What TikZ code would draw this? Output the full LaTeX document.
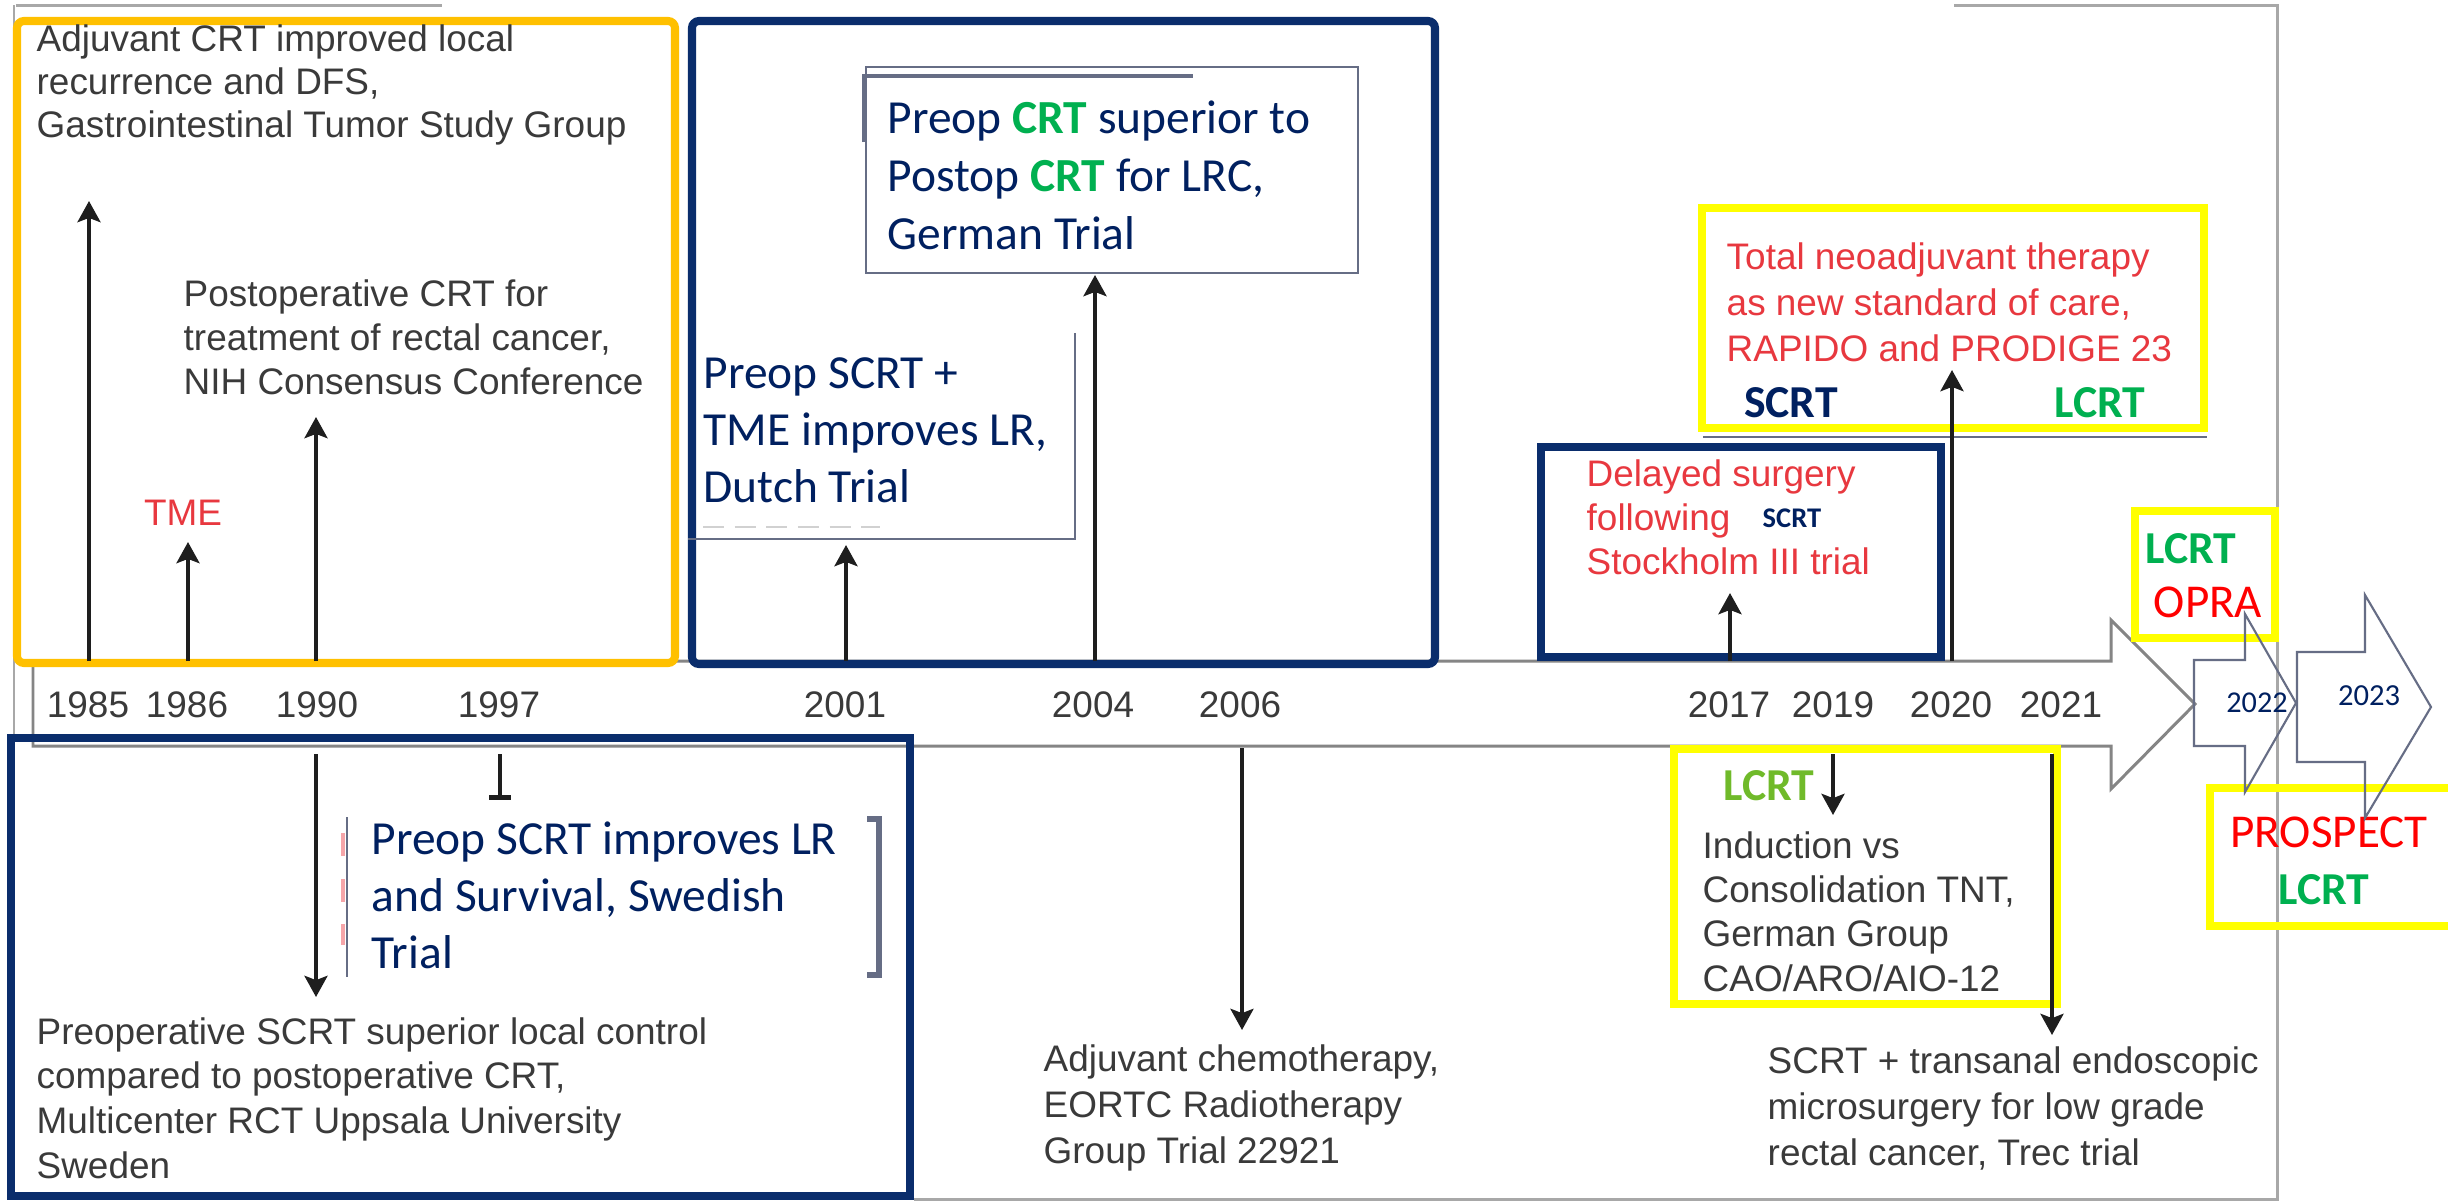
\documentclass[tikz,border=0pt]{standalone}
\usepackage{fontspec}
\setmainfont{Liberation Sans}
\newfontfamily\calfont{Carlito}
\usetikzlibrary{arrows.meta}
\definecolor{orangeY}{HTML}{FFC000}
\definecolor{navybox}{HTML}{0A2D6C}
\definecolor{navytext}{HTML}{002060}
\definecolor{yel}{HTML}{FFFF00}
\definecolor{grn}{HTML}{00B050}
\definecolor{lgrn}{HTML}{70BA2A}
\definecolor{pred}{HTML}{FF0000}
\definecolor{sred}{HTML}{E8383F}
\definecolor{gtext}{HTML}{3A3A3A}
\definecolor{slate}{HTML}{666D85}
\definecolor{bandgrey}{HTML}{858585}
\definecolor{framegrey}{HTML}{A8A8A8}
\definecolor{arblack}{HTML}{1E1E1E}
\begin{document}
\begin{tikzpicture}[x=0.01cm,y=-0.01cm,
  evt/.style={line width=1.4pt, draw=arblack, -{Stealth[length=6pt,width=6.5pt,inset=1.2pt]}},
  tbar/.style={line width=1.3pt, draw=arblack, -{Bar[width=6pt]}},
  arialtxt/.style={inner sep=0pt, anchor=base west, align=left, text=gtext, font=\fontsize{10.5pt}{#1pt}\selectfont},
  caltxt/.style={inner sep=0pt, anchor=base west, align=left, text=navytext, font=\calfont\fontsize{13.5pt}{#1pt}\selectfont},
  yearlbl/.style={inner sep=0pt, text=gtext, font=\fontsize{10.5pt}{12pt}\selectfont},
  tag/.style={inner sep=0pt, font=\calfont\bfseries\fontsize{13pt}{15pt}\selectfont},
  tagreg/.style={inner sep=0pt, font=\calfont\fontsize{13.4pt}{15pt}\selectfont},
  thickbox/.style={line width=2.3pt},
  thinbox/.style={line width=0.6pt, draw=slate},
  band/.style={line width=0.85pt, draw=bandgrey},
  framel/.style={line width=0.85pt, draw=framegrey},
  yeararrow/.style={line width=0.6pt, draw=slate}
]
\useasboundingbox (0,0) rectangle (2448,1202);
\fill[white] (0,0) rectangle (2448,1202);

% outer frame remnants
\draw[framel] (16,5) -- (442,5);
\draw[framel] (1954,5) -- (2277,5) -- (2277,1199) -- (914,1199);
\draw[framel] (14,5) -- (14,740);

% main timeline arrow
\draw[band] (33,661) -- (2111,661) -- (2111,620) -- (2195,704) -- (2111,789) -- (2111,746) -- (33,746) -- cycle;

% thick frames
\draw[thickbox, draw=orangeY, rounded corners=2pt] (17,21) rectangle (675,663);
\draw[thickbox, draw=navybox, rounded corners=2pt] (692,21) rectangle (1435,664);
\draw[thickbox, draw=navybox] (11,738) rectangle (910,1196);
\draw[thickbox, draw=navybox] (1541,447) rectangle (1941,657);
\draw[line width=0.5pt, draw=slate] (1703,437) -- (2207,437);
\draw[thickbox, draw=yel] (1702,208) rectangle (2204,428);
\draw[thickbox, draw=yel] (1674,749) rectangle (2057,1004);
\draw[thickbox, draw=yel] (2135,511) rectangle (2275,638);
\draw[thickbox, draw=yel] (2448,788) -- (2210,788) -- (2210,926) -- (2448,926);

% thin text boxes
\draw[thinbox] (866,67) rectangle (1358,273);
\draw[line width=1.1pt, draw=slate] (864,142) -- (864,76) -- (1193,76);
\draw[thinbox] (1075,333) -- (1075,539) -- (688,539);
\draw[draw=black!18, line width=0.6pt, dash pattern=on 6pt off 3pt] (703,527) -- (880,527);
\draw[thinbox] (347,817) -- (347,977);
\draw[line width=1.8pt, draw=slate] (867,819) -- (879,819) -- (879,975) -- (867,975);
\draw[line width=1pt, draw=sred!45] (343,833) -- (343,856);
\draw[line width=1pt, draw=sred!45] (343,879) -- (343,902);
\draw[line width=1pt, draw=sred!45] (343,924) -- (343,945);

% year labels
\node[yearlbl] (y1985) at (88,705) {1985};
\node[yearlbl] (y1986) at (187,705) {1986};
\node[yearlbl] (y1990) at (317,705) {1990};
\node[yearlbl] (y1997) at (499,705) {1997};
\node[yearlbl] (y2001) at (845,705) {2001};
\node[yearlbl] (y2004) at (1093,705) {2004};
\node[yearlbl] (y2006) at (1240,705) {2006};
\node[yearlbl] (y2017) at (1729,705) {2017};
\node[yearlbl] (y2019) at (1833,705) {2019};
\node[yearlbl] (y2020) at (1951,705) {2020};
\node[yearlbl] (y2021) at (2061,705) {2021};

% texts above the timeline (anchor = baseline of the last line)
\node[arialtxt=12.2] (adj) at (36,137) {Adjuvant CRT improved local\\recurrence and DFS,\\Gastrointestinal Tumor Study Group};
\node[arialtxt=12.5] (post) at (183,394) {Postoperative CRT for\\treatment of rectal cancer,\\NIH Consensus Conference};
\node[inner sep=0pt, text=sred, font=\fontsize{10.5pt}{12pt}\selectfont] (tme) at (183,513) {TME};
\node[caltxt=16.4] (german) at (887,249) {Preop {\bfseries\color{grn}CRT} superior to\\Postop {\bfseries\color{grn}CRT} for LRC,\\German Trial};
\node[caltxt=16.2] (dutch) at (703,502) {Preop SCRT +\\TME improves LR,\\Dutch Trial};
\node[arialtxt=12.5, text=sred] (delayed) at (1586,574) {Delayed surgery\\following\\Stockholm III trial};
\node[inner sep=0pt, anchor=base west, text=navytext, font=\calfont\bfseries\fontsize{8.1pt}{10pt}\selectfont] (smallscrt) at (1762,527) {SCRT};
\node[arialtxt=13, text=sred] (tnt) at (1726,361) {Total neoadjuvant therapy\\as new standard of care,\\RAPIDO and PRODIGE 23};
\node[tag, text=navytext] (tscrt) at (1791,403) {SCRT};
\node[tag, text=grn] (tlcrt) at (2100,403) {LCRT};
\node[tag, text=grn] (olcrt) at (2191,549) {LCRT};
\node[tagreg, text=pred] (opra) at (2208,602) {OPRA};

% texts below the timeline
\node[caltxt=16.2] (swed) at (371,968) {Preop SCRT improves LR\\and Survival, Swedish\\Trial};
\node[arialtxt=12.7] (upps) at (36,1178) {Preoperative SCRT superior local control\\compared to postoperative CRT,\\Multicenter RCT Uppsala University\\Sweden};
\node[arialtxt=13] (eortc) at (1043,1163) {Adjuvant chemotherapy,\\EORTC Radiotherapy\\Group Trial 22921};
\node[tag, text=lgrn] (blcrt) at (1769,786) {LCRT};
\node[arialtxt=12.6] (induct) at (1702,991) {Induction vs\\Consolidation TNT,\\German Group\\CAO/ARO/AIO-12};
\node[arialtxt=13] (trec) at (1767,1165) {SCRT + transanal endoscopic\\microsurgery for low grade\\rectal cancer, Trec trial};
\node[tagreg, text=pred] (prospect) at (2329,832) {PROSPECT};
\node[tag, text=grn] (plcrt) at (2324,890) {LCRT};

% event arrows
\coordinate (b1985) at (89,661);  \coordinate (h1985) at (89,201);
\coordinate (b1986) at (188,661); \coordinate (h1986) at (188,542);
\coordinate (b1990) at (316,661); \coordinate (h1990) at (316,417);
\coordinate (b2001) at (846,661); \coordinate (h2001) at (846,545);
\coordinate (b2004) at (1095,661); \coordinate (h2004) at (1095,275);
\coordinate (b2017) at (1730,661); \coordinate (h2017) at (1730,593);
\coordinate (b2020) at (1952,661); \coordinate (h2020) at (1952,370);
\coordinate (d1990) at (316,754); \coordinate (e1990) at (316,997);
\coordinate (d1997) at (500,754); \coordinate (e1997) at (500,800);
\coordinate (d2006) at (1242,748); \coordinate (e2006) at (1242,1030);
\coordinate (d2019) at (1833,754); \coordinate (e2019) at (1833,815);
\coordinate (d2021) at (2052,754); \coordinate (e2021) at (2052,1035);
\draw[evt] (b1985) -- (h1985);
\draw[evt] (b1986) -- (h1986);
\draw[evt] (b1990) -- (h1990);
\draw[evt] (b2001) -- (h2001);
\draw[evt] (b2004) -- (h2004);
\draw[evt] (b2017) -- (h2017);
\draw[evt] (b2020) -- (h2020);
\draw[evt] (d1990) -- (e1990);
\draw[tbar] (d1997) -- (e1997);
\draw[evt] (d2006) -- (e2006);
\draw[evt] (d2019) -- (e2019);
\draw[evt] (d2021) -- (e2021);

% future year arrows
\draw[yeararrow] (2194,660) -- (2245,660) -- (2245,614) -- (2296,703) -- (2245,792) -- (2245,746) -- (2194,746) -- cycle;
\draw[yeararrow] (2297,652) -- (2365,652) -- (2365,595) -- (2431,707) -- (2365,818) -- (2365,762) -- (2297,762) -- cycle;
\node[inner sep=0pt, text=navytext, font=\calfont\fontsize{8.6pt}{10pt}\selectfont] (y2022) at (2257,703) {2022};
\node[inner sep=0pt, text=navytext, font=\calfont\fontsize{8.7pt}{10pt}\selectfont] (y2023) at (2369,696) {2023};
\end{tikzpicture}
\end{document}
